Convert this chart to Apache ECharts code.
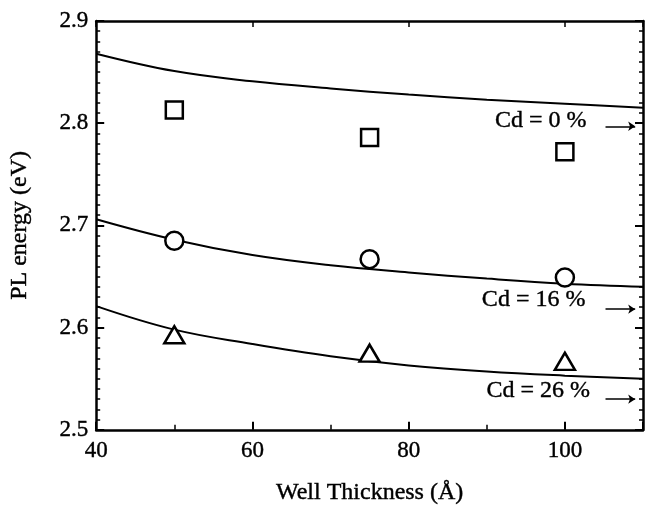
<!DOCTYPE html>
<html>
<head>
<meta charset="utf-8">
<script src="https://cdn.jsdelivr.net/npm/echarts@6/dist/echarts.min.js"></script>
<style>
  html, body { margin: 0; padding: 0; background: #fff; }
  #chart { width: 647px; height: 510px; }
</style>
</head>
<body>
<div id="chart"></div>
<script>
// Measured PL peak energies (eV) versus well thickness (Å)
var wellThickness = [50, 75, 100];
var plCd0  = [2.813, 2.786, 2.772];
var plCd16 = [2.685, 2.667, 2.649];
var plCd26 = [2.593, 2.575, 2.567];

// Calculated transition energies (solid curves)
var fitThickness = [40, 50, 60, 70, 80, 90, 100, 110];
var fitCd0  = [2.868, 2.851, 2.841, 2.834, 2.828, 2.823, 2.819, 2.815];
var fitCd16 = [2.706, 2.686, 2.671, 2.661, 2.654, 2.648, 2.643, 2.640];
var fitCd26 = [2.621, 2.598, 2.584, 2.572, 2.563, 2.557, 2.553, 2.550];

// Curve labels
var curveLabels = ['Cd = 0 %', 'Cd = 16 %', 'Cd = 26 %'];

// Axis ticks
var xTicks = [40, 60, 80, 100];
var yTicks = [2.5, 2.6, 2.7, 2.8, 2.9];

function pairs(xs, ys) {
  return xs.map(function (x, i) { return [x, ys[i]]; });
}

var FONT = '"Liberation Serif", "DejaVu Serif", serif';
var INK = '#000';
// slight stroke so the serif text reads as heavy as printed type
var TEXT_WEIGHT = { textBorderColor: INK, textBorderWidth: 0.4 };

function textStyle(size) {
  return Object.assign({ fontFamily: FONT, fontSize: size, color: INK }, TEXT_WEIGHT);
}

function curve(xs, ys) {
  return {
    type: 'line',
    data: pairs(xs, ys),
    smooth: 0.4,
    showSymbol: false,
    lineStyle: { color: INK, width: 2 },
    silent: true,
    z: 2
  };
}

function points(ys, symbol, size) {
  return {
    type: 'scatter',
    data: pairs(wellThickness, ys),
    symbol: symbol,
    symbolSize: size,
    itemStyle: { color: '#fff', borderColor: INK, borderWidth: 2.5, opacity: 1 },
    z: 3
  };
}

// Curve label with a short arrow pointing to the right-hand axis
function tag(text, x, y, arrowY) {
  return {
    type: 'scatter',
    data: [[x, y]],
    symbolSize: 0,
    silent: true,
    itemStyle: { opacity: 1 },
    label: Object.assign({
      show: true,
      position: 'inside',
      formatter: text
    }, textStyle(24)),
    markLine: {
      silent: true,
      symbol: ['none', 'arrow'],
      symbolSize: [7, 7],
      label: { show: false },
      lineStyle: { color: INK, width: 1.5, type: 'solid', opacity: 1 },
      data: [[{ coord: [105.2, arrowY] }, { coord: [109.0, arrowY] }]]
    },
    z: 4
  };
}

var option = {
  backgroundColor: '#fff',
  animation: false,
  grid: { left: 96, right: 4, top: 21, bottom: 78 },
  xAxis: [{
    type: 'value',
    min: 40, max: 110, interval: 20,
    name: 'Well Thickness (Å)',
    nameLocation: 'middle',
    nameGap: 51,
    nameTextStyle: textStyle(24),
    axisLine: { lineStyle: { color: INK, width: 2.5 } },
    axisTick: { inside: true, length: 8, lineStyle: { color: INK, width: 2 } },
    minorTick: { show: true, splitNumber: 2, length: 5, lineStyle: { color: INK, width: 1.5 } },
    splitLine: { show: false },
    axisLabel: Object.assign({
      margin: 10,
      showMaxLabel: false,
      formatter: function (v) { return xTicks.indexOf(v) >= 0 ? String(v) : ''; }
    }, textStyle(23))
  }, {
    type: 'value', position: 'top',
    min: 40, max: 110, interval: 20,
    axisLine: { lineStyle: { color: INK, width: 2.5 } },
    axisTick: { inside: true, length: 6, lineStyle: { color: INK, width: 1.5 } },
    axisLabel: { show: false },
    splitLine: { show: false }
  }],
  yAxis: [{
    type: 'value',
    min: 2.5, max: 2.9, interval: 0.1,
    name: 'PL energy (eV)',
    nameLocation: 'middle',
    nameGap: 64,
    nameTextStyle: textStyle(24),
    axisLine: { lineStyle: { color: INK, width: 2.5 } },
    axisTick: { inside: true, length: 8, lineStyle: { color: INK, width: 2 } },
    minorTick: { show: true, splitNumber: 10, length: 4, lineStyle: { color: INK, width: 1.5 } },
    splitLine: { show: false },
    axisLabel: Object.assign({
      margin: 8,
      formatter: function (v) {
        var s = v.toFixed(1);
        return yTicks.indexOf(parseFloat(s)) >= 0 ? s : '';
      }
    }, textStyle(23))
  }, {
    type: 'value', position: 'right',
    min: 2.5, max: 2.9, interval: 0.1,
    axisLine: { lineStyle: { color: INK, width: 2.5 } },
    axisTick: { inside: true, length: 8, lineStyle: { color: INK, width: 2 } },
    minorTick: { show: true, splitNumber: 10, length: 4, lineStyle: { color: INK, width: 1.5 } },
    axisLabel: { show: false },
    splitLine: { show: false }
  }],
  series: [
    curve(fitThickness, fitCd0),
    curve(fitThickness, fitCd16),
    curve(fitThickness, fitCd26),
    points(plCd0, 'rect', 17),
    points(plCd16, 'circle', 18),
    points(plCd26, 'triangle', [20, 17]),
    tag(curveLabels[0], 96.9, 2.802, 2.797),
    tag(curveLabels[1], 96.0, 2.627, 2.618),
    tag(curveLabels[2], 96.6, 2.538, 2.530)
  ]
};

var chart = echarts.init(document.getElementById('chart'), null, { renderer: 'canvas' });
chart.setOption(option);
</script>
</body>
</html>
